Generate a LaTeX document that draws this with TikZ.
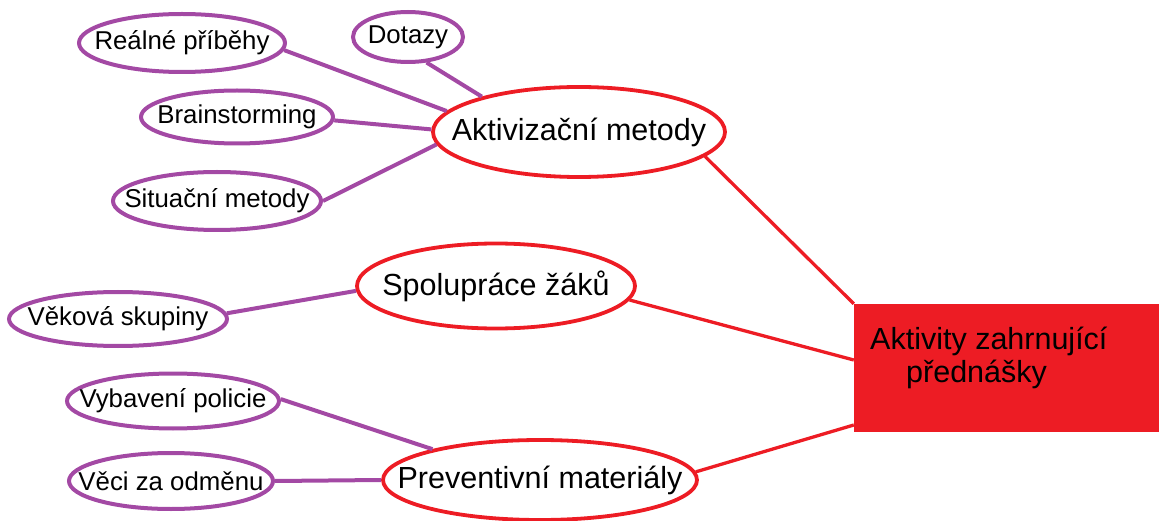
\documentclass[tikz,border=0pt]{standalone}
\usepackage{fontspec}
\setmainfont{Liberation Sans}
\usetikzlibrary{shapes.geometric}
\definecolor{pred}{HTML}{ED1C24}
\definecolor{ppur}{HTML}{A349A4}
\begin{document}
\begin{tikzpicture}[x=1pt,y=-1pt,
 big/.style={ellipse, draw=pred, line width=3.8pt, inner sep=0pt, font=\fontsize{30.5}{36}\selectfont},
 small/.style={ellipse, draw=ppur, line width=4pt, inner sep=0pt, font=\fontsize{25.8}{30}\selectfont},
 redline/.style={draw=pred, line width=3.3pt},
 purline/.style={draw=ppur, line width=4pt},
 rtext/.style={anchor=base west, inner sep=0pt, font=\fontsize{30.5}{36}\selectfont}
]
\useasboundingbox (0,0) rectangle (1159,521);

\node[big, minimum width=292pt, minimum height=90pt] (akt) at (579,132) {\makebox[0pt]{Aktivizační metody}};
\node[big, minimum width=278pt, minimum height=85pt] (spol) at (496,286) {\makebox[0pt]{Spolupráce žáků}};
\node[big, minimum width=314pt, minimum height=80pt] (prev) at (540,480) {\makebox[0pt]{Preventivní materiály}};

\node[small, minimum width=206pt, minimum height=58pt] (real) at (182,43) {\makebox[0pt]{Reálné příběhy}};
\node[small, minimum width=110pt, minimum height=50pt] (dot) at (408,37) {\makebox[0pt]{Dotazy}};
\node[small, minimum width=192pt, minimum height=53pt] (brain) at (237,117) {\makebox[0pt]{Brainstorming}};
\node[small, minimum width=208pt, minimum height=58pt] (sit) at (217,201) {\makebox[0pt]{Situační metody}};
\node[small, minimum width=218pt, minimum height=54pt] (vek) at (118,319) {\makebox[0pt]{Věková skupiny}};
\node[small, minimum width=212pt, minimum height=55pt] (vyb) at (173,401) {\makebox[0pt]{Vybavení policie}};
\node[small, minimum width=204pt, minimum height=56pt] (veci) at (171,481) {\makebox[0pt]{Věci za odměnu}};

\node[fill=pred, minimum width=305pt, minimum height=128pt, inner sep=0pt] (rect) at (1006.5,368) {};
\node[rtext] (rt1) at (870,349) {Aktivity zahrnující};
\node[rtext] (rt2) at (906,382) {přednášky};

\draw[purline] (real.-4) -- (akt.171);
\draw[purline] (dot.-54) -- (akt.160);
\draw[purline] (brain.-2) -- (akt.179);
\draw[purline] (sit.0) -- (akt.185);
\draw[redline] (akt.-11) -- (rect.north west);
\draw[purline] (vek.3) -- (spol.182);
\draw[redline] (spol.-6) -- ([yshift=8pt]rect.west);
\draw[purline] (vyb.1) -- (prev.164);
\draw[purline] (veci.0) -- (prev.180);
\draw[redline] (prev.3) -- ([yshift=-57pt]rect.west);
\end{tikzpicture}
\end{document}
